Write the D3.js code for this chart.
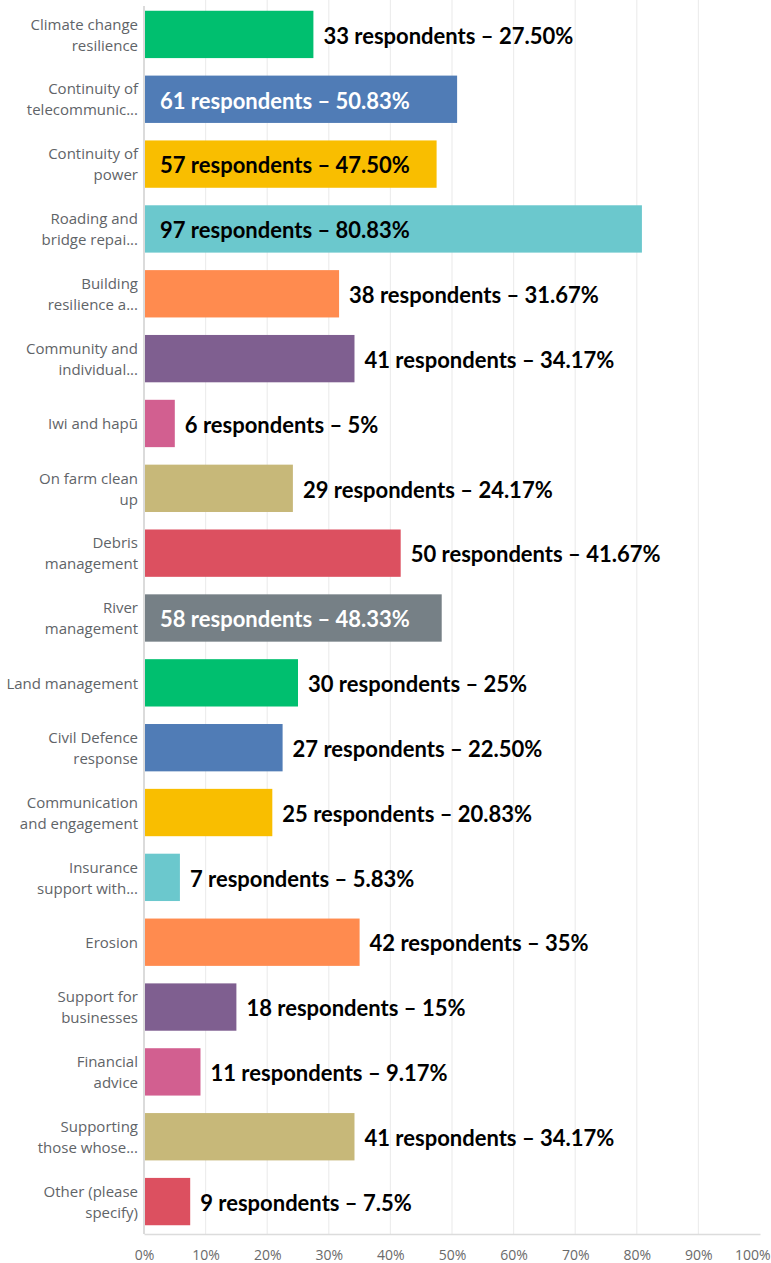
<!DOCTYPE html>
<html>
<head>
<meta charset="utf-8">
<script src="https://cdn.jsdelivr.net/npm/d3@7"></script>
<style>
  html, body { margin: 0; padding: 0; background: #fff; }
  svg { display: block; }
</style>
</head>
<body>
<svg id="chart"></svg>
<script>
// category labels, already wrapped/truncated as shown
const categories = [
  ["Climate change", "resilience"],
  ["Continuity of", "telecommunic..."],
  ["Continuity of", "power"],
  ["Roading and", "bridge repai..."],
  ["Building", "resilience a..."],
  ["Community and", "individual..."],
  ["Iwi and hapū"],
  ["On farm clean", "up"],
  ["Debris", "management"],
  ["River", "management"],
  ["Land management"],
  ["Civil Defence", "response"],
  ["Communication", "and engagement"],
  ["Insurance", "support with..."],
  ["Erosion"],
  ["Support for", "businesses"],
  ["Financial", "advice"],
  ["Supporting", "those whose..."],
  ["Other (please", "specify)"]
];
const counts = [33, 61, 57, 97, 38, 41, 6, 29, 50, 58, 30, 27, 25, 7, 42, 18, 11, 41, 9];
const percents = [27.50, 50.83, 47.50, 80.83, 31.67, 34.17, 5, 24.17, 41.67, 48.33, 25, 22.50, 20.83, 5.83, 35, 15, 9.17, 34.17, 7.5];
const percentLabels = ["27.50%", "50.83%", "47.50%", "80.83%", "31.67%", "34.17%", "5%", "24.17%", "41.67%", "48.33%",
  "25%", "22.50%", "20.83%", "5.83%", "35%", "15%", "9.17%", "34.17%", "7.5%"];
// label drawn inside the bar for these rows
const insideRows = [1, 2, 3, 9];
const palette = ["#00bf6f", "#507cb6", "#f9be00", "#6bc8cd", "#ff8b4f", "#7f5f90", "#d25f90", "#c7b879", "#dc5060", "#768086"];
const xTicks = [0, 10, 20, 30, 40, 50, 60, 70, 80, 90, 100];

const width = 771;
const height = 1263;
const margin = { top: 2, right: 11, bottom: 29, left: 144 };

const data = categories.map((c, i) => ({
  lines: c,
  count: counts[i],
  pct: percents[i],
  label: `${counts[i]} respondents \u2013 ${percentLabels[i]}`,
  inside: insideRows.includes(i),
  color: palette[i % palette.length]
}));

const svg = d3.select("#chart")
  .attr("width", width)
  .attr("height", height);

const x = d3.scaleLinear()
  .domain([0, 100])
  .range([margin.left, width - margin.right]);

const y = d3.scaleBand()
  .domain(d3.range(data.length))
  .range([margin.top, height - margin.bottom])
  .paddingInner(0.27)
  .paddingOuter(0.135);

// gridlines
svg.append("g")
  .selectAll("line")
  .data(xTicks.filter(t => t > 0 && t < 100))
  .join("line")
  .attr("x1", d => x(d))
  .attr("x2", d => x(d))
  .attr("y1", 0)
  .attr("y2", height - margin.bottom)
  .attr("stroke", "#ededed")
  .attr("stroke-width", 1.2);

// bottom axis
const xAxis = svg.append("g")
  .attr("transform", `translate(0,${height - margin.bottom})`)
  .call(d3.axisBottom(x).tickValues(xTicks).tickSize(0).tickPadding(16).tickFormat(d => d + "%"));
xAxis.select(".domain").attr("stroke", "#dcdcdc").attr("stroke-width", 1.5);
xAxis.selectAll("text")
  .attr("fill", "#6a6a6a")
  .style("font-family", "'Open Sans', sans-serif")
  .style("font-size", "14px");
xAxis.selectAll(".tick").filter(d => d === 100).select("text")
  .attr("text-anchor", "end")
  .attr("x", width - 1 - x(100));

// left axis line
svg.append("line")
  .attr("x1", margin.left).attr("x2", margin.left)
  .attr("y1", 6).attr("y2", height - margin.bottom)
  .attr("stroke", "#cfcfcf")
  .attr("stroke-width", 1.5);

// bars
svg.append("g")
  .selectAll("rect")
  .data(data)
  .join("rect")
  .attr("x", x(0) + 1)
  .attr("y", (d, i) => y(i))
  .attr("width", d => x(d.pct) - x(0) - 1)
  .attr("height", y.bandwidth())
  .attr("fill", d => d.color);

// category labels
const cat = svg.append("g")
  .selectAll("text")
  .data(data)
  .join("text")
  .attr("text-anchor", "end")
  .attr("fill", "#5f6468")
  .style("font-family", "'Open Sans', sans-serif")
  .style("font-size", "15px");
cat.each(function (d, i) {
  const cy = y(i) + y.bandwidth() / 2;
  const lh = 21;
  const start = cy - (d.lines.length - 1) * lh / 2;
  d3.select(this).selectAll("tspan")
    .data(d.lines)
    .join("tspan")
    .attr("x", margin.left - 6)
    .attr("y", (l, j) => start + j * lh)
    .attr("dy", "0.38em")
    .text(l => l);
});

// value labels
svg.append("g")
  .selectAll("text")
  .data(data)
  .join("text")
  .attr("x", d => d.inside ? x(0) + 16 : x(d.pct) + 10)
  .attr("y", (d, i) => y(i) + y.bandwidth() / 2)
  .attr("dy", "0.42em")
  .attr("fill", d => d.inside && (d.color === "#507cb6" || d.color === "#768086") ? "#ffffff" : "#000000")
  .style("font-family", "Lato, sans-serif")
  .style("font-weight", "bold")
  .style("font-size", "22px")
  .text(d => d.label);
</script>
</body>
</html>
